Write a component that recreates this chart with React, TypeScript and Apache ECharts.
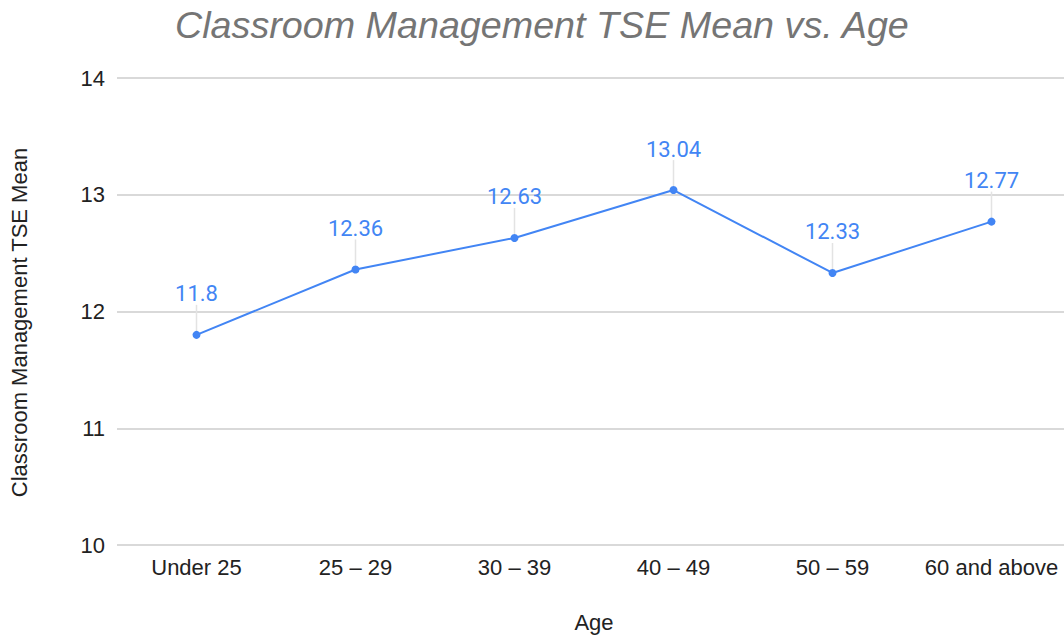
import React, { useEffect, useRef } from "react";
import * as echarts from "echarts";

const categories = ["Under 25", "25 – 29", "30 – 39", "40 – 49", "50 – 59", "60 and above"];
const meanValues = [11.8, 12.36, 12.63, 13.04, 12.33, 12.77];
const yTicks = { min: 10, max: 14, interval: 1 };

const AXIS_FONT = "'Liberation Sans', Arial, sans-serif";

export default function App() {
  const ref = useRef<HTMLDivElement>(null);
  useEffect(() => {
    if (!ref.current) return;
    const chart = echarts.init(ref.current, undefined, { renderer: "svg" });
    chart.setOption({
      animation: false,
      backgroundColor: "#ffffff",
      title: {
        text: "Classroom Management TSE Mean vs. Age",
        left: 170,
        top: 1,
        textStyle: {
          fontFamily: AXIS_FONT,
          fontStyle: "italic",
          fontWeight: "normal",
          fontSize: 37.7,
          color: "#757575",
        },
      },
      grid: { left: 117, right: -7, top: 78, bottom: 92, containLabel: false, outerBoundsMode: "none" },
      xAxis: {
        type: "category",
        data: categories,
        boundaryGap: true,
        name: "Age",
        nameLocation: "middle",
        nameGap: 66,
        nameTextStyle: { fontFamily: AXIS_FONT, fontSize: 22, color: "#222" },
        axisLine: { show: false },
        axisTick: { show: false },
        axisLabel: {
          margin: 11,
          fontFamily: AXIS_FONT,
          fontSize: 22,
          color: "#222",
          interval: 0,
        },
      },
      yAxis: {
        type: "value",
        min: yTicks.min,
        max: yTicks.max,
        interval: yTicks.interval,
        name: "Classroom Management TSE Mean",
        nameLocation: "middle",
        nameGap: 87,
        nameTextStyle: { fontFamily: AXIS_FONT, fontSize: 22, color: "#222", padding: [0, 22, 0, 0] },
        axisLine: { show: false },
        axisTick: { show: false },
        axisLabel: {
          margin: 12,
          fontFamily: AXIS_FONT,
          fontSize: 22,
          color: "#222",
        },
        splitLine: { lineStyle: { color: "#cccccc", width: 1.5 } },
      },
      series: [
        {
          type: "line",
          data: meanValues,
          color: "#4285f4",
          lineStyle: { color: "#4285f4", width: 2 },
          symbol: "circle",
          symbolSize: 8,
          itemStyle: { color: "#4285f4" },
          label: {
            show: true,
            position: "top",
            distance: 5,
            color: "#4285f4",
            fontFamily: "Roboto, sans-serif",
            fontSize: 22,
          },
          labelLayout: { dy: -21 },
          labelLine: { show: true, lineStyle: { color: "#e3e3e3", width: 1.5 } },
        },
      ],
    });
    return () => chart.dispose();
  }, []);
  return (
    <div
      ref={ref}
      style={{ position: "fixed", left: 0, top: 0, width: 1064, height: 637 }}
    />
  );
}
